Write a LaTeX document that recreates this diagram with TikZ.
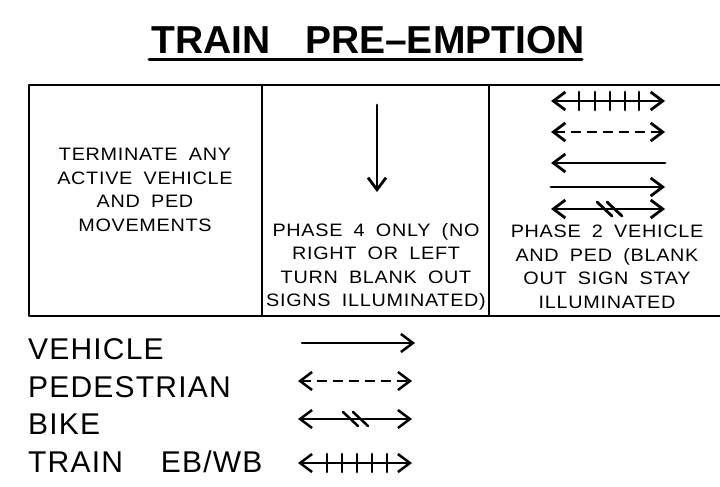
\documentclass[tikz,border=0pt]{standalone}
\usepackage{fontspec}
\setmainfont{Liberation Sans}[FakeStretch=1.1,LetterSpace=4,WordSpace=1.8]
\newfontfamily\titlefont{Liberation Sans}[WordSpace=1.6]
\newfontfamily\keyfont{Liberation Sans}[LetterSpace=4,WordSpace=1.8]
\usetikzlibrary{arrows.meta}

\tikzset{
  celltext/.style={align=center,inner sep=0pt,font=\fontsize{18}{23.5}\selectfont},
  keytext/.style={anchor=west,inner sep=0pt,font=\keyfont\fontsize{30}{30}\selectfont},
  barb/.tip={Straight Barb[length=12pt,width=18pt]},
  move/.style={line width=2.8pt,line cap=round},
}

\begin{document}
\begin{tikzpicture}[x=1pt,y=-1pt,line join=round]
  \useasboundingbox (0,0) rectangle (720,487);
  \node[inner sep=0pt,font=\titlefont\bfseries\fontsize{39}{39}\selectfont] (title) at (368,40) {TRAIN\ \ PRE\textendash EMPTION};
  \draw[line width=3pt,line cap=round] (149,60) -- (582,60);
  \draw[line width=2pt] (720,85) -- (29,85) -- (29,316) -- (720,316);
  \draw[line width=2pt] (262,85) -- (262,316);
  \draw[line width=2pt] (489,85) -- (489,316);
  \node[celltext] (terminate) at (145,190) {TERMINATE ANY\\ACTIVE VEHICLE\\AND PED\\MOVEMENTS};
  \node[celltext] (phasefour) at (376,267) {PHASE 4 ONLY (NO\\RIGHT OR LEFT\\TURN BLANK OUT\\SIGNS ILLUMINATED)};
  \node[celltext] (phasetwo) at (607,267) {PHASE 2 VEHICLE\\AND PED (BLANK\\OUT SIGN STAY\\ILLUMINATED};
  \coordinate (downA) at (377,105);
  \coordinate (downB) at (377,192);
  \draw[move,-barb] (downA) -- (downB);
  \coordinate (trainA) at (551,101);
  \coordinate (trainB) at (665,101);
  \draw[move,barb-barb] (trainA) -- (trainB);
  \draw[move] (579,92) -- (579,110);
  \draw[move] (595,92) -- (595,110);
  \draw[move] (610,92) -- (610,110);
  \draw[move] (625,92) -- (625,110);
  \draw[move] (639,92) -- (639,110);
  \coordinate (pedA) at (551,132);
  \coordinate (pedB) at (665,132);
  \draw[move,barb-barb,dash pattern=on 10pt off 6pt,line cap=butt] (pedA) -- (pedB);
  \coordinate (westA) at (665,163);
  \coordinate (westB) at (551,163);
  \draw[move,-barb] (westA) -- (westB);
  \coordinate (eastA) at (551,187);
  \coordinate (eastB) at (665,187);
  \draw[move,-barb] (eastA) -- (eastB);
  \coordinate (bikeA) at (551,209);
  \coordinate (bikeB) at (665,209);
  \draw[move,barb-barb] (bikeA) -- (bikeB);
  \draw[move] (597,202) -- (612,216);
  \draw[move] (607,202) -- (622,216);
  \node[keytext] (vehkey) at (28,349) {VEHICLE};
  \node[keytext] (pedkey) at (28,387) {PEDESTRIAN};
  \node[keytext] (bikekey) at (28,424) {BIKE};
  \node[keytext] (trainkey) at (28,462) {TRAIN\hspace{38pt}EB/WB};
  \coordinate (vehA) at (302,343);
  \coordinate (vehB) at (415,343);
  \draw[move,line width=2.5pt,-barb] (vehA) -- (vehB);
  \coordinate (pedkA) at (298,381);
  \coordinate (pedkB) at (412,381);
  \draw[move,line width=2.5pt,barb-barb,dash pattern=on 10pt off 6pt,line cap=butt] (pedkA) -- (pedkB);
  \coordinate (bikekA) at (298,419);
  \coordinate (bikekB) at (412,419);
  \draw[move,line width=2.5pt,barb-barb] (bikekA) -- (bikekB);
  \draw[move,line width=2.5pt] (343,412) -- (358,426);
  \draw[move,line width=2.5pt] (353,412) -- (368,426);
  \coordinate (trainkA) at (298,463);
  \coordinate (trainkB) at (412,463);
  \draw[move,line width=2.5pt,barb-barb] (trainkA) -- (trainkB);
  \draw[move,line width=2.5pt] (327,454) -- (327,472);
  \draw[move,line width=2.5pt] (342,454) -- (342,472);
  \draw[move,line width=2.5pt] (357,454) -- (357,472);
  \draw[move,line width=2.5pt] (372,454) -- (372,472);
  \draw[move,line width=2.5pt] (387,454) -- (387,472);
\end{tikzpicture}
\end{document}
